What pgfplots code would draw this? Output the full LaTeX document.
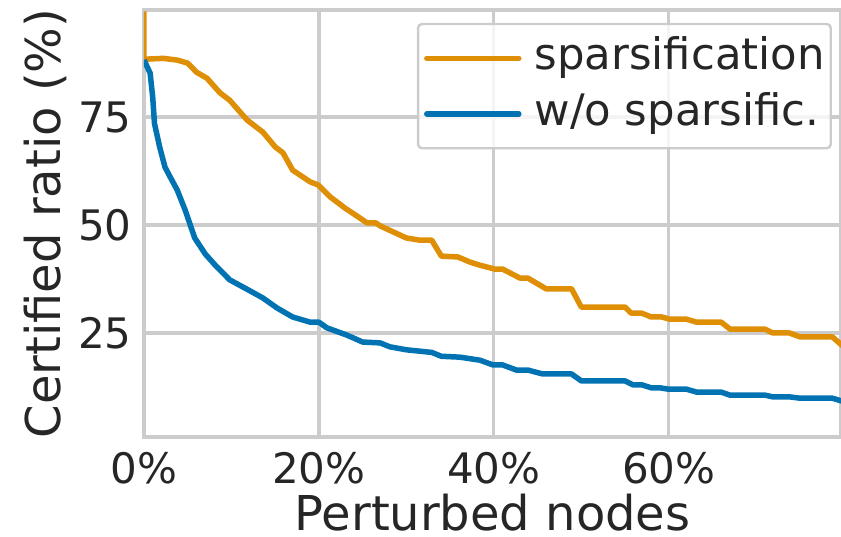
\documentclass[border=0pt]{standalone}
\usepackage{pgfplots}
\pgfplotsset{compat=1.18}
\usepackage{fontspec}
\setmainfont{DejaVu Sans}
\definecolor{sorange}{RGB}{222,143,5}
\definecolor{sblue}{RGB}{1,115,178}
\definecolor{gridgray}{RGB}{204,204,204}
\definecolor{textgray}{RGB}{38,38,38}
\begin{document}
\begin{tikzpicture}
\begin{axis}[
  scale only axis, width=348.5pt, height=213.5pt,
  xmin=0, xmax=79.7, ymin=0.9, ymax=99.8,
  xtick={0,20,40,60}, xticklabels={0\%,20\%,40\%,60\%},
  ytick={25,50,75}, yticklabels={25,50,75},
  major tick length=0pt,
  grid=major,
  major grid style={gridgray, line width=1.6pt},
  axis line style={gridgray, line width=1.8pt},
  tick label style={font=\fontsize{21}{25}\selectfont, text=textgray, inner sep=0pt},
  xticklabel style={yshift=-7.5pt},
  yticklabel style={xshift=-6pt},
  label style={font=\fontsize{24}{28}\selectfont, text=textgray, inner sep=0pt},
  xlabel={Perturbed nodes},
  ylabel={Certified ratio (\%)},
  xlabel style={at={(axis description cs:0.5,-0.2178)}, anchor=base},
  ylabel style={at={(axis description cs:-0.1205,0.5)}, anchor=base, rotate=0},
  legend style={at={(axis description cs:0.987,0.970)}, anchor=north east,
    draw=gridgray, line width=1.2pt, fill=white, fill opacity=0.8, text opacity=1,
    rounded corners=2pt, font=\fontsize{21.7}{26}\selectfont, text=textgray,
    inner xsep=3pt, inner ysep=6.5pt, column sep=6.5pt, row sep=6.5pt,
    nodes={inner sep=0pt, text height=16.3pt, text depth=5pt}},
  legend cell align=left,
  legend image code/.code={\draw[#1, line cap=round] (0pt,0pt) -- (46pt,0pt); \path (0pt,-8pt);},
  every axis plot/.append style={line width=2.75pt, line join=round},
]
\addplot[sorange] coordinates {
(0,99.5) (0,88.4) (2.2,88.6) (3.8,88.2) (5,87.5) (6,85.4) (7.2,84) (8.7,80.6)
(9.8,78.9) (11.8,74.3) (13.6,71.5) (15,68.1) (15.9,66.7) (17,62.7) (19,60)
(19.9,59.3) (21.3,56.5) (23,53.9) (24.7,51.6) (25.5,50.5) (26.5,50.5) (27,49.8)
(28.5,48.4) (30,47) (31.5,46.5) (32.9,46.5) (34,42.8) (35.9,42.6) (37.3,41.4)
(38.4,40.7) (40.1,39.8) (41,39.8) (43,37.7) (43.9,37.7) (46,35.2) (48.9,35.2)
(50,31) (55,31) (55.7,29.6) (56.9,29.6) (58,28.7) (59.2,28.7) (60.1,28.2)
(62,28.2) (63.2,27.5) (66,27.5) (67,25.9) (71,25.9) (71.9,25) (73.8,25)
(75,24.1) (78.7,24.1) (80,21.8)
};
\addlegendentry{sparsification\hspace{4pt}}
\addplot[sblue] coordinates {
(0,88.2) (0.7,85.2) (1,79.5) (1.2,73.5) (1.8,68) (2.4,63.4) (3,61.1) (3.8,58.1)
(4.7,53.5) (5.8,47) (7,43.3) (8.1,40.8) (9.8,37.3) (11.9,35) (13.6,33.1)
(15.2,30.8) (17,28.7) (19,27.5) (20,27.5) (20.9,26.2) (23.2,24.5) (25,22.9)
(27,22.7) (28.1,21.8) (30,21.1) (32.9,20.5) (34,19.6) (36.1,19.4) (38.4,18.7)
(39.9,17.6) (41,17.6) (42.6,16.4) (43.9,16.4) (45.6,15.5) (48.9,15.5) (50,13.9)
(55,13.9) (55.9,13) (56.9,13) (58,12.3) (59,12.3) (59.9,12) (62,12) (63.2,11.3)
(66,11.3) (67,10.6) (71,10.6) (71.9,10.2) (73.8,10.2) (75,9.9) (78.7,9.9) (80,9.1)
};
\addlegendentry{w/o sparsific.}
\end{axis}
\pgfresetboundingbox
\path[use as bounding box] ([shift={(-72pt,-49.5pt)}]current axis.south west) rectangle ([shift={(0pt,5pt)}]current axis.north east);
\end{tikzpicture}
\end{document}
